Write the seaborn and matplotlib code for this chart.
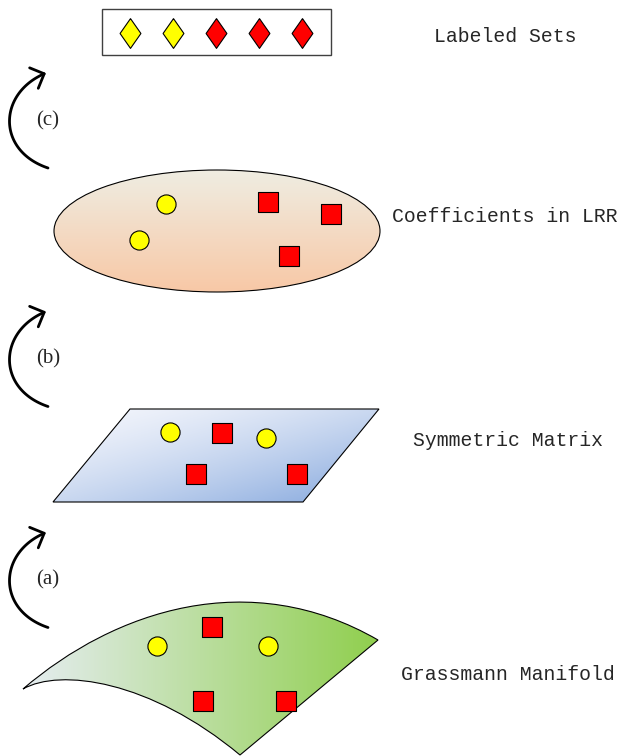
import numpy as np
import pandas as pd
import seaborn as sns
import matplotlib.pyplot as plt
from matplotlib.patches import Ellipse, Polygon, Rectangle, FancyArrowPatch, PathPatch
from matplotlib.path import Path
from matplotlib.colors import to_rgb

sns.set_style('white')

# labeled sets (diamonds)
set_x = [130, 173, 216, 259, 302]
set_y = [33, 33, 33, 33, 33]
set_cls = ['pos', 'pos', 'neg', 'neg', 'neg']

# coefficients in LRR (ellipse)
lrr_x = [166, 139, 268, 331, 289]
lrr_y = [204, 240, 202, 214, 256]
lrr_cls = ['pos', 'pos', 'neg', 'neg', 'neg']

# symmetric matrix (plane)
sym_x = [170, 266, 222, 196, 297]
sym_y = [432, 438, 433, 474, 474]
sym_cls = ['pos', 'pos', 'neg', 'neg', 'neg']

# grassmann manifold
gr_x = [157, 268, 212, 203, 286]
gr_y = [646, 646, 627, 701, 701]
gr_cls = ['pos', 'pos', 'neg', 'neg', 'neg']

layer_names = ['Labeled Sets', 'Coefficients in LRR', 'Symmetric Matrix', 'Grassmann Manifold']
step_labels = ['(c)', '(b)', '(a)']

fig = plt.figure(figsize=(6.19, 7.56), dpi=100)
ax = fig.add_axes([0, 0, 1, 1])


def gradient_fill(patch, extent, c0, c1, direction='v', gamma=1.0):
    x0, x1, y0, y1 = extent
    n = 200
    t = np.linspace(0, 1, n)
    if direction == 'v':
        tt = np.tile(t[:, None], (1, n))
    elif direction == 'h':
        tt = np.tile(t[None, :], (n, 1))
    else:
        tt = (t[:, None] + t[None, :]) / 2
    tt = tt ** gamma
    a, b = np.array(to_rgb(c0)), np.array(to_rgb(c1))
    img = a[None, None, :] * (1 - tt[..., None]) + b[None, None, :] * tt[..., None]
    im = ax.imshow(img, extent=(x0, x1, y1, y0), origin='upper', aspect='auto', zorder=1)
    im.set_clip_path(patch)


# box with labeled sets
ax.add_patch(Rectangle((102, 9), 229, 46, fill=False, ec='#404040', lw=1.0, zorder=2))

# ellipse
ell = Ellipse((217, 231), 326, 122, fc='none', ec='black', lw=0.8, zorder=2)
ax.add_patch(ell)
gradient_fill(ell, (54, 380, 170, 292), '#EFEDE2', '#F8C8A6', 'v')

# parallelogram
par = Polygon([(130, 409), (379, 409), (303, 502), (53, 502)], closed=True,
              fc='none', ec='black', lw=0.8, zorder=2)
ax.add_patch(par)
gradient_fill(par, (53, 379, 409, 502), '#F4F6FC', '#84A7DD', 'd', gamma=1.4)

# curved manifold
verts = [(23, 689), (115, 610), (250, 566), (378, 640),
         (240, 755),
         (150, 680), (60, 668), (23, 689)]
codes = [Path.MOVETO, Path.CURVE4, Path.CURVE4, Path.CURVE4,
         Path.LINETO,
         Path.CURVE4, Path.CURVE4, Path.CURVE4]
man = PathPatch(Path(verts, codes), fc='none', ec='black', lw=0.8, zorder=2)
ax.add_patch(man)
gradient_fill(man, (23, 378, 566, 756), '#E6EDF2', '#90CF4E', 'h')

# markers
diamond = [(0, 1), (0.7, 0), (0, -1), (-0.7, 0), (0, 1)]
groups = [(set_x, set_y, set_cls, diamond, 460),
          (lrr_x, lrr_y, lrr_cls, None, 190),
          (sym_x, sym_y, sym_cls, None, 190),
          (gr_x, gr_y, gr_cls, None, 190)]
for xs, ys, cls, mk, s in groups:
    df = pd.DataFrame({'x': xs, 'y': ys, 'cls': cls})
    for c, col, m in [('pos', '#FFFF00', 'o'), ('neg', '#FF0000', 's')]:
        sub = df[df['cls'] == c]
        sns.scatterplot(x='x', y='y', data=sub, ax=ax, marker=mk if mk else m,
                        s=s, color=col, edgecolor='black', linewidth=0.8, zorder=5)

# curved arrows
for cy, lab in zip([120.5, 359, 580], step_labels):
    p0 = np.array([48, cy + 47.5])
    p1 = np.array([-4, cy + 30])
    p2 = np.array([-2, cy - 28])
    p3 = np.array([46, cy - 47.5])
    t = np.linspace(0, 1, 80)[:, None]
    pts = (1 - t) ** 3 * p0 + 3 * (1 - t) ** 2 * t * p1 + 3 * (1 - t) * t ** 2 * p2 + t ** 3 * p3
    arr = FancyArrowPatch(path=Path(pts), arrowstyle='->,head_length=0.4,head_width=0.4',
                          mutation_scale=20, lw=2.0, color='black', zorder=3)
    ax.add_patch(arr)
    ax.text(48, cy, lab, fontsize=15, family='Liberation Serif', ha='center', va='center')

# layer names
for (tx, ty), name in zip([(434, 36), (392, 217), (413, 441), (401, 675)], layer_names):
    ax.text(tx, ty, name, fontsize=14.2, family='Liberation Mono', ha='left', va='center')

ax.set_xlim(0, 619)
ax.set_ylim(756, 0)
ax.axis('off')
plt.savefig('out.png', dpi=100)
